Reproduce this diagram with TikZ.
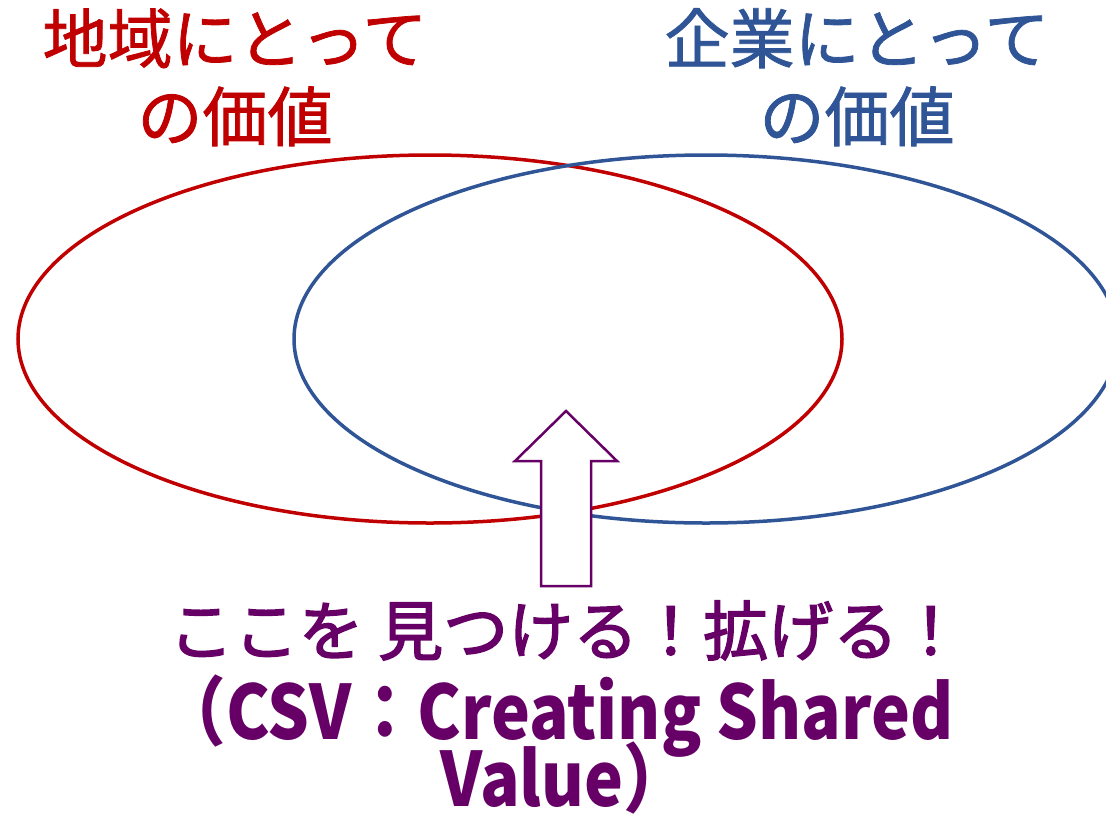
\documentclass[tikz,border=0pt]{standalone}
\usepackage{fontspec}
\newfontfamily\jp{Noto Sans CJK JP}
\newfontfamily\jpm[FakeBold=1.2]{Noto Sans CJK JP}
\newfontfamily\jpb[FakeBold=2.2]{Noto Sans CJK JP}
\definecolor{cred}{HTML}{C00000}
\definecolor{cblue}{HTML}{2F5597}
\definecolor{cpurp}{HTML}{660066}
\tikzset{
  ring/.style={line width=3.5pt},
  lbl/.style={inner sep=0pt, anchor=base, font=\jpm\fontsize{65pt}{70pt}\selectfont},
  lblp/.style={inner sep=0pt, anchor=base, text=cpurp, font=\jpb\fontsize{65pt}{70pt}\selectfont},
  csv/.style={inner sep=0pt, anchor=base, text=cpurp, text height=52pt, text depth=4pt, font=\jp\bfseries\fontsize{75pt}{80pt}\selectfont},
  uparrow/.style={draw=cpurp, fill=white, line width=2.5pt, line join=miter}
}
\begin{document}
\begin{tikzpicture}[x=1pt,y=-1pt]
\useasboundingbox (0,0) rectangle (1106,815);
\clip (0,0) rectangle (1106,815);
\draw[ring, cred] (430,339) ellipse [x radius=412, y radius=184];
\draw[ring, cblue] (706,339) ellipse [x radius=412, y radius=184];
\coordinate (tip) at (566,411);
\draw[uparrow] (tip) -- (617,461) -- (591,461) -- (591,586) -- (541,586) -- (541,461) -- (515,461) -- cycle;
\node[lbl, text=cred] (r1) at (235,63) {地域にとって};
\node[lbl, text=cred] (r2) at (235,141) {の価値};
\node[lbl, text=cblue] (b1) at (857,63) {企業にとって};
\node[lbl, text=cblue] (b2) at (857,141) {の価値};
\node[lblp] (p1) at (566,655) {ここを 見つける！拡げる！};
\node[csv] (p2) at (557,739) {\scalebox{0.875}[1]{（CSV：Creating Shared}};
\node[csv] (p3) at (565,806) {\scalebox{0.875}[1]{Value）}};
\end{tikzpicture}
\end{document}
